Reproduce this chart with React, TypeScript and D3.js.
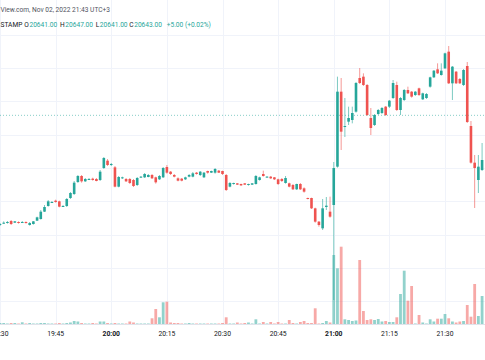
import React from "react";
import * as d3 from "d3";

// ---- data (BTCUSD 1-minute bars, Bitstamp, Nov 02 2022, from 19:30 UTC+3) ----
const startTime = new Date(2022, 10, 2, 19, 30);

const open = [
  20478.5, 20481, 20481.5, 20484.5, 20482, 20483, 20482, 20483, 20478.5, 20480,
  20485, 20487.5, 20498.5, 20507, 20512, 20515, 20514, 20506, 20507, 20519,
  20525, 20543, 20552, 20544, 20547, 20548, 20547.5, 20546, 20564, 20575,
  20568.5, 20565, 20536, 20549, 20547.5, 20547.5, 20546, 20538.5, 20550, 20550,
  20550.5, 20553.5, 20550, 20547, 20550, 20565.5, 20558.5, 20553.5, 20548.5, 20548,
  20547, 20551, 20551, 20557, 20553.5, 20550, 20559.5, 20557, 20557, 20560,
  20559.5, 20553.5, 20536, 20540.5, 20541, 20540, 20541, 20538.5, 20539, 20540,
  20546, 20555, 20550.5, 20551, 20550, 20547, 20547.5, 20541.5, 20541, 20538.5,
  20532, 20540, 20533.5, 20519, 20519, 20503.5, 20483.5, 20473.5, 20505.5, 20498.5,
  20508.5, 20566, 20678.5, 20625.5, 20633.5, 20636, 20648.5, 20699, 20701, 20688.5,
  20639, 20628.5, 20645, 20646.5, 20656, 20656, 20669, 20688.5, 20651, 20666,
  20681, 20678.5, 20673.5, 20683.5, 20667, 20669, 20686, 20700, 20712, 20703.5,
  20713.5, 20738.5, 20691, 20708.5, 20697.5, 20688.5, 20717, 20627, 20572, 20546,
  20561,
];

const high = [
  20481.5, 20484, 20484.5, 20486, 20484.5, 20484, 20484.5, 20484, 20483, 20484.5,
  20491, 20501, 20508.5, 20516, 20514.5, 20516.5, 20515, 20508.5, 20519, 20528,
  20544.5, 20553.5, 20553.5, 20549, 20549, 20549.5, 20549, 20561, 20580.5, 20577.5,
  20571.5, 20567, 20552, 20551, 20549, 20549, 20547.5, 20550.5, 20552, 20556.5,
  20555, 20555, 20551, 20553.5, 20565.5, 20568.5, 20559.5, 20555, 20550, 20549,
  20551, 20555, 20558, 20558, 20559.5, 20558, 20560, 20560, 20564, 20561,
  20560, 20555, 20543, 20542, 20541.5, 20540.5, 20541.5, 20540.5, 20541.5, 20553.5,
  20551, 20560, 20552, 20552, 20550.5, 20548, 20549, 20552, 20542, 20540,
  20540.5, 20541.5, 20535, 20519.5, 20519.5, 20504.5, 20484.5, 20517.5, 20520.5, 20521,
  20573, 20701, 20699, 20669, 20656, 20656, 20693, 20714, 20706, 20690,
  20654, 20645, 20652.5, 20655.5, 20657, 20666, 20696, 20693.5, 20670.5, 20682.5,
  20686, 20679.5, 20679.5, 20684.5, 20677, 20676.5, 20701, 20711, 20721, 20721,
  20737, 20747, 20717, 20709.5, 20699, 20712.5, 20723, 20634.5, 20583.5, 20583.5,
  20601.5,
];

const low = [
  20477, 20480, 20480.5, 20478.5, 20481.5, 20480.5, 20481.5, 20480.5, 20477.5, 20479,
  20484.5, 20486.5, 20498, 20506, 20511.5, 20512, 20505, 20505.5, 20505.5, 20517.5,
  20523.5, 20541.5, 20542, 20543, 20546, 20545, 20544, 20544.5, 20562.5, 20567,
  20567, 20535, 20535, 20547.5, 20543, 20540, 20535.5, 20537, 20549, 20549,
  20550, 20547.5, 20540.5, 20546, 20549, 20555.5, 20553.5, 20550, 20544, 20544,
  20546, 20550, 20550, 20554, 20552, 20549, 20555.5, 20556.5, 20555.5, 20556.5,
  20553.5, 20529.5, 20535, 20539, 20538.5, 20537, 20538.5, 20537.5, 20538.5, 20539,
  20545, 20551, 20550, 20547.5, 20546, 20538.5, 20543, 20540.5, 20535, 20531,
  20531, 20531, 20527, 20517, 20502.5, 20482, 20476, 20471, 20501, 20489.5,
  20366, 20564.5, 20591, 20610.5, 20628.5, 20631, 20647, 20690, 20687, 20642,
  20613.5, 20627, 20643.5, 20645, 20642, 20654, 20667.5, 20649.5, 20643.5, 20664.5,
  20675, 20669.5, 20672, 20672, 20666, 20667.5, 20684.5, 20699, 20705, 20702.5,
  20712.5, 20690, 20666, 20690, 20690, 20687, 20631.5, 20570.5, 20504, 20526.5,
  20559.5,
];

const close = [
  20480, 20482, 20483, 20480, 20484, 20481.5, 20483, 20481.5, 20481.5, 20484,
  20490, 20498.5, 20505.5, 20514, 20513, 20513, 20506, 20507, 20517.5, 20526.5,
  20542, 20552, 20544, 20547.5, 20547.5, 20546, 20544.5, 20558.5, 20579, 20568.5,
  20570, 20536, 20550.5, 20550, 20544, 20541.5, 20537, 20549, 20551, 20555,
  20553.5, 20548.5, 20542.5, 20552, 20564, 20557, 20555, 20551, 20545, 20545,
  20550, 20553.5, 20556, 20555, 20558.5, 20557, 20557, 20559.5, 20562.5, 20557,
  20555, 20531, 20541.5, 20541.5, 20539, 20538, 20539, 20540, 20541, 20552,
  20550, 20552, 20551, 20548.5, 20547, 20540, 20544.5, 20549, 20536, 20532,
  20540, 20532, 20528.5, 20517.5, 20503.5, 20483.5, 20478.5, 20503.5, 20507.5, 20491,
  20564, 20678.5, 20618.5, 20627, 20639, 20646.5, 20691.5, 20691.5, 20688.5, 20643.5,
  20624, 20643.5, 20651, 20654, 20643.5, 20665, 20691.5, 20651, 20669, 20681,
  20676, 20671, 20678.5, 20673.5, 20676, 20675, 20700, 20710, 20706, 20710,
  20736, 20691, 20716, 20691, 20691, 20711, 20633, 20572, 20564, 20566,
  20576,
];

const volume = [
  0.5, 0.5, 0.25, 0.5, 0.5, 0.25, 0.85, 0.25, 0.5, 0.25,
  0.25, 0.5, 0.5, 0.25, 0.25, 0.25, 0.5, 0.25, 0.5, 0.75,
  1.5, 1.25, 0.5, 0.25, 0.25, 0.5, 0.25, 1.25, 1.25, 0.5,
  0.25, 0.5, 0.25, 0.25, 0.25, 1.25, 0.75, 0.25, 0.25, 0.25,
  0.25, 2.85, 7.5, 3.35, 10.85, 11.15, 0.75, 0.5, 0.5, 0.25,
  0.25, 0.5, 0.25, 0.25, 0.25, 0.25, 0.25, 0.25, 0.25, 0.25,
  0.5, 3.35, 0.25, 0.25, 0.75, 0.25, 0.5, 0.75, 0.25, 2.35,
  0.25, 1, 0.25, 1, 0.25, 1, 0.25, 0.25, 2, 0.5,
  0.25, 1, 1.5, 0.5, 0.5, 7.85, 0.25, 0.5, 1.5, 0.75,
  34.5, 27.85, 38.65, 2.35, 2, 1.5, 1.75, 32, 6.5, 2,
  2.35, 2, 2.5, 1.25, 1.5, 1, 1, 3.35, 15, 26.65,
  11.65, 19, 0.25, 4.5, 0.75, 0.25, 2.35, 1.25, 2.65, 2.65,
  5, 2.85, 1.25, 0.75, 1.25, 1.5, 9.5, 3.65, 20, 4,
  14,
];

const gridPrices = [20364, 20414, 20464, 20514, 20564, 20614, 20664, 20714, 20764];
const lastPrice = 20643;

const headerLine1 = "View.com, Nov 02, 2022 21:43 UTC+3";
const symbolText = "STAMP";
const ohlcLabels = ["O", "H", "L", "C"];
const ohlcValues = ["20641.00", "20647.00", "20641.00", "20643.00"];
const changeText = "+5.00 (+0.02%)";

const UP = "#26a69a";
const DOWN = "#ef5350";
const UP_VOL = "rgba(38,166,154,0.5)";
const DOWN_VOL = "rgba(239,83,80,0.5)";
const GRID = "#f0f3fa";
const TEXT = "#131722";
const FONT = "Roboto, 'Noto Sans', sans-serif";

export default function App() {
  const W = 485;
  const H = 360;
  const paneBottom = 324;

  const times = open.map((_, i) => d3.timeMinute.offset(startTime, i));

  const x = d3
    .scaleTime()
    .domain([new Date(2022, 10, 2, 19, 30), new Date(2022, 10, 2, 21, 30)])
    .range([0, 445]);
  const y = d3.scaleLinear().domain([20276, 20816]).range([H, 0]);
  const v = d3.scaleLinear().domain([0, 50]).range([paneBottom, paneBottom - 100]);

  const ticks = x.ticks(d3.timeMinute.every(15));
  const fmt = d3.timeFormat("%H:%M");

  const bodyW = 2.6;
  const volW = 2.8;

  const ohlcX = [24.3, 60, 95.7, 129.3];
  const hdrSize = 6.6;

  return (
    <div style={{ position: "fixed", left: 0, top: 0, width: W, height: H, background: "#fff" }}>
      <svg width={W} height={H} style={{ display: "block" }} fontFamily={FONT}>
        <rect x={0} y={0} width={W} height={H} fill="#ffffff" />
        <defs>
          <clipPath id="pane">
            <rect x={0} y={0} width={W} height={paneBottom} />
          </clipPath>
        </defs>

        {/* grid */}
        {ticks.map((t, i) => (
          <line key={"vg" + i} x1={Math.round(x(t)) + 0.5} x2={Math.round(x(t)) + 0.5} y1={0} y2={paneBottom} stroke={GRID} strokeWidth={1} />
        ))}
        {gridPrices.map((p, i) => (
          <line key={"hg" + i} x1={0} x2={W} y1={Math.round(y(p)) + 0.5} y2={Math.round(y(p)) + 0.5} stroke={GRID} strokeWidth={1} />
        ))}

        <g clipPath="url(#pane)">
          {/* volume */}
          {volume.map((vol, i) => {
            const up = close[i] >= open[i];
            const cx = x(times[i]);
            return (
              <rect
                key={"v" + i}
                x={cx - volW / 2}
                y={v(vol)}
                width={volW}
                height={Math.max(0.6, paneBottom - v(vol))}
                fill={up ? UP_VOL : DOWN_VOL}
              />
            );
          })}

          {/* last price line */}
          <line x1={0} x2={W} y1={y(lastPrice)} y2={y(lastPrice)} stroke={UP} strokeOpacity={0.55} strokeWidth={1} strokeDasharray="1 2" />

          {/* candles */}
          {open.map((o, i) => {
            const c = close[i];
            const up = c >= o;
            const col = up ? UP : DOWN;
            const cx = x(times[i]);
            const top = y(Math.max(o, c));
            const bot = y(Math.min(o, c));
            return (
              <g key={"c" + i}>
                <line x1={cx} x2={cx} y1={y(high[i])} y2={y(low[i])} stroke={col} strokeWidth={1} strokeOpacity={0.6} />
                <rect x={cx - bodyW / 2} y={top} width={bodyW} height={Math.max(1, bot - top)} fill={col} />
              </g>
            );
          })}
        </g>

        {/* time axis */}
        <line x1={0} x2={W} y1={paneBottom + 0.5} y2={paneBottom + 0.5} stroke="#e0e3eb" strokeWidth={1} />
        {ticks.map((t, i) => (
          <text
            key={"tl" + i}
            x={x(t)}
            y={335.5}
            textAnchor="middle"
            fontSize={6.8}
            fill={TEXT}
            fontWeight={t.getMinutes() === 0 ? 700 : 400}
          >
            {fmt(t)}
          </text>
        ))}

        {/* header */}
        <text x={0.5} y={11.5} fontSize={hdrSize} fill="#50535e">
          {headerLine1}
        </text>
        <text x={0.5} y={27} fontSize={hdrSize} fill={TEXT}>
          {symbolText}
        </text>
        {ohlcLabels.map((lab, i) => (
          <text key={"ol" + i} x={ohlcX[i]} y={27} fontSize={hdrSize} fill={TEXT}>
            {lab}
            <tspan dx={0.6} fill={UP}>{ohlcValues[i]}</tspan>
          </text>
        ))}
        <text x={166.7} y={27} fontSize={hdrSize} fill={UP}>
          {changeText}
        </text>
      </svg>
    </div>
  );
}
